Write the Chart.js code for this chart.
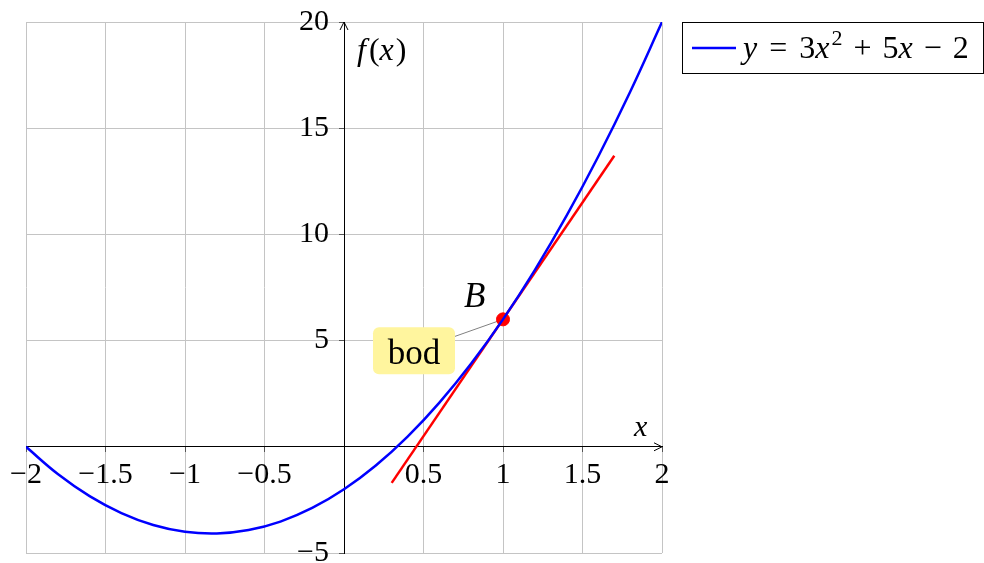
<!DOCTYPE html>
<html>
<head>
<meta charset="utf-8">
<script src="https://cdn.jsdelivr.net/npm/chart.js@4.4.1/dist/chart.umd.min.js"></script>
<style>
html, body { margin: 0; padding: 0; background: #fff; }
#wrap { width: 984px; height: 563px; position: relative; }
</style>
</head>
<body>
<div id="wrap"><canvas id="chart"></canvas></div>
<script>
// data
const curveX = [-2, -1.8, -1.6, -1.4, -1.2, -1, -0.8, -0.6, -0.4, -0.2, 0, 0.2, 0.4, 0.6, 0.8, 1, 1.2, 1.4, 1.6, 1.8, 2];
const curveY = [0, -1.28, -2.32, -3.12, -3.68, -4, -4.08, -3.92, -3.52, -2.88, -2, -0.88, 0.48, 2.08, 3.92, 6, 8.32, 10.88, 13.68, 16.72, 20];
const tangentX = [0.3, 1.7];
const tangentY = [-1.7, 13.7];
const pointX = [1];
const pointY = [6];
const xTicks = [-2, -1.5, -1, -0.5, 0, 0.5, 1, 1.5, 2];
const yTicks = [-5, 0, 5, 10, 15, 20];
const pointLabel = 'B';
const calloutLabel = 'bod';

const SERIF = '"Liberation Serif", "DejaVu Serif", serif';
const toPts = (xs, ys) => xs.map((x, i) => ({ x, y: ys[i] }));
const tickText = v => v === 0 ? '' : String(v).replace('-', '\u2212');

// draw runs of [text, italic, size, raise] one after the other
function drawRuns(ctx, runs, x, baseline) {
  let cx = x;
  runs.forEach(([t, it, size, raise]) => {
    if (t === ' ') { cx += size; return; }
    ctx.font = `${it ? 'italic ' : ''}${size}px ${SERIF}`;
    ctx.fillText(t, cx, baseline - (raise || 0));
    cx += ctx.measureText(t).width;
  });
  return cx;
}

const overlay = {
  id: 'overlay',
  beforeDatasetsDraw(chart) {
    const { ctx, scales: { x, y } } = chart;
    const px = x.getPixelForValue(pointX[0]);
    const py = y.getPixelForValue(pointY[0]);
    ctx.save();
    ctx.strokeStyle = '#808080';
    ctx.lineWidth = 1;
    ctx.beginPath();
    ctx.moveTo(px - 48, py + 17);
    ctx.lineTo(px, py);
    ctx.stroke();
    ctx.restore();
  },
  afterDraw(chart) {
    const { ctx, chartArea: a, scales: { x, y } } = chart;
    const x0 = x.getPixelForValue(0);
    const y0 = y.getPixelForValue(0);
    ctx.save();
    ctx.fillStyle = '#000';
    ctx.strokeStyle = '#000';
    ctx.lineWidth = 1;
    ctx.textBaseline = 'alphabetic';
    ctx.textAlign = 'left';

    // arrow heads
    ctx.beginPath();
    ctx.moveTo(x0 - 4, a.top + 8); ctx.lineTo(x0, a.top); ctx.lineTo(x0 + 4, a.top + 8);
    ctx.moveTo(a.right - 8, y0 - 4); ctx.lineTo(a.right, y0); ctx.lineTo(a.right - 8, y0 + 4);
    ctx.stroke();

    // axis titles
    drawRuns(ctx, [['f', true, 32], [' ', false, 3], ['(', false, 32], ['x', true, 32], [' ', false, 2], [')', false, 32]], x0 + 13, a.top + 38);
    drawRuns(ctx, [['x', true, 30]], a.right - 28, y0 - 11);

    // point label + callout
    const px = x.getPixelForValue(pointX[0]);
    const py = y.getPixelForValue(pointY[0]);
    drawRuns(ctx, [[pointLabel, true, 35]], px - 39, py - 12);

    ctx.fillStyle = '#fff59e';
    ctx.beginPath();
    ctx.roundRect(px - 130, py + 8, 82, 47, 6);
    ctx.fill();
    ctx.fillStyle = '#000';
    ctx.font = `35px ${SERIF}`;
    ctx.textAlign = 'center';
    ctx.fillText(calloutLabel, px - 89, py + 45);
    ctx.textAlign = 'left';

    // legend
    const lx = a.right + 20, ly = a.top, lw = 301, lh = 51;
    ctx.fillStyle = '#fff';
    ctx.fillRect(lx, ly, lw, lh);
    ctx.strokeRect(lx + 0.5, ly + 0.5, lw, lh);
    ctx.strokeStyle = '#0000ff';
    ctx.lineWidth = 2.5;
    ctx.beginPath();
    ctx.moveTo(lx + 10, ly + 26); ctx.lineTo(lx + 54, ly + 26);
    ctx.stroke();
    ctx.fillStyle = '#000';
    drawRuns(ctx, [
      ['y', true, 32], [' ', false, 12], ['=', false, 32], [' ', false, 12], ['3', false, 32],
      ['x', true, 32], [' ', false, 2], ['2', false, 22, 13], [' ', false, 11], ['+', false, 32], [' ', false, 11],
      ['5', false, 32], ['x', true, 32], [' ', false, 11], ['\u2212', false, 32], [' ', false, 11], ['2', false, 32]
    ], lx + 61, ly + 36);
    ctx.restore();
  }
};

// centred axes: keep their labels from pushing the plot area around
const noPad = s => { s.paddingLeft = 0; s.paddingRight = 0; s.paddingTop = 0; s.paddingBottom = 0; };

const axisCommon = {
  type: 'linear',
  border: { display: true, color: '#000', width: 1 },
  grid: { color: '#c4c4c4', lineWidth: 1, drawTicks: true, tickLength: 5, tickColor: '#555' },
  ticks: {
    color: '#000',
    font: { family: SERIF, size: 30 },
    autoSkip: false,
    maxRotation: 0
  },
  afterFit: noPad
};

new Chart(document.getElementById('chart'), {
  type: 'scatter',
  data: {
    datasets: [
      { label: 'curve', data: toPts(curveX, curveY), showLine: true, borderColor: '#0000ff', borderWidth: 2.5, pointRadius: 0, tension: 0.4, fill: false },
      { label: 'tangent', data: toPts(tangentX, tangentY), showLine: true, borderColor: '#ff0000', borderWidth: 2.5, pointRadius: 0, fill: false },
      { label: 'B', data: toPts(pointX, pointY), showLine: false, backgroundColor: '#ff0000', borderColor: '#ff0000', pointRadius: 6.5 }
    ]
  },
  options: {
    responsive: true,
    maintainAspectRatio: false,
    devicePixelRatio: 1,
    animation: false,
    layout: { autoPadding: false, padding: { left: 26, top: 22, right: 322, bottom: 10 } },
    plugins: { legend: { display: false }, tooltip: { enabled: false } },
    scales: {
      x: {
        ...axisCommon,
        min: -2, max: 2,
        position: { y: 0 },
        afterBuildTicks: s => { s.ticks = xTicks.map(v => ({ value: v })); },
        ticks: { ...axisCommon.ticks, padding: 5, callback: v => tickText(v) }
      },
      y: {
        ...axisCommon,
        min: -5, max: 20,
        position: { x: 0 },
        afterBuildTicks: s => { s.ticks = yTicks.map(v => ({ value: v })); },
        ticks: { ...axisCommon.ticks, callback: v => v === 0 ? '' : tickText(v) + '\u2002' }
      }
    }
  },
  plugins: [overlay]
});
</script>
</body>
</html>
